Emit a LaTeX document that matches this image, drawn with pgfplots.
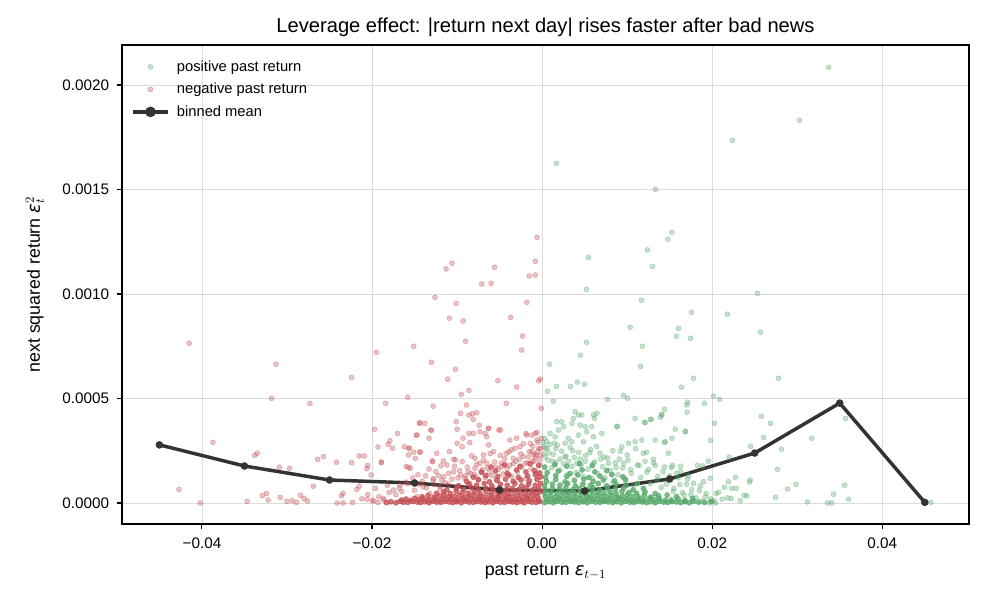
\documentclass[border=0pt]{standalone}
\usepackage{pgfplots}
\pgfplotsset{compat=1.18}
\usepackage{fontspec}
\setmainfont{Liberation Sans}
\newfontfamily\djv{DejaVu Sans}
\newcommand{\eps}{\hbox{\djv\itshape ε}}
\definecolor{pgreen}{RGB}{85,168,104}
\definecolor{nred}{RGB}{196,78,82}
\definecolor{dark}{RGB}{51,51,51}
\pgfplotsset{
  scatleg/.style={legend image code/.code={\path[draw=none,fill=none] (0pt,0pt) -- (29.5pt,0pt); \draw[mark repeat=2,mark phase=2,##1] plot coordinates {(0pt,0pt) (12.5pt,0pt) (25pt,0pt)};}},
  lineleg/.style={legend image code/.code={\path[draw=none,fill=none] (0pt,0pt) -- (29.5pt,0pt); \draw[##1] (0pt,0pt) -- (25pt,0pt); \fill[dark] (12.5pt,0pt) circle (2.5pt);}},
}
\begin{document}
\begin{tikzpicture}
\useasboundingbox (-87.84pt,-53.28pt) rectangle (623.52pt,377.28pt);
\begin{axis}[
  at={(0pt,0pt)}, anchor=south west,
  scale only axis, width=609.84pt, height=344.88pt,
  xmin=-0.0494, xmax=0.0502, ymin=-0.0001005, ymax=0.0021914,
  xtick={-0.04,-0.02,0,0.02,0.04},
  xticklabels={−0.04,−0.02,0.00,0.02,0.04},
  ytick={0,0.0005,0.001,0.0015,0.002},
  yticklabels={0.0000,0.0005,0.0010,0.0015,0.0020},
  scaled x ticks=false, scaled y ticks=false,
  tick align=outside, xtick pos=bottom, ytick pos=left,
  major tick length=3.8pt,
  tick style={black, line width=0.8pt},
  axis line style={line width=0.8pt},
  grid=major, major grid style={line width=0.6pt, color=black!14},
  ticklabel style={font=\fontsize{11}{13}\selectfont},
  xticklabel style={yshift=-2.6pt},
  yticklabel style={xshift=-2pt},
  xlabel={past return $\eps_{t-1}$},
  ylabel={next squared return $\eps_t^2$},
  label style={font=\fontsize{12.8}{15}\selectfont},
  xlabel style={at={(axis description cs:0.5,-0.1002)}, anchor=center},
  ylabel style={at={(axis description cs:-0.1027,0.5)}, anchor=center},
  every axis title shift=0pt,
  title={Leverage effect: |return next day| rises faster after bad news},
  title style={font=\fontsize{14.5}{17}\selectfont, at={(axis description cs:0.5,1.0376)}, anchor=center},
  legend style={draw=none, fill=none, at={(axis description cs:0,1)}, anchor=north west,
    xshift=3.6pt, yshift=-7pt,
    font=\fontsize{10.6}{12.5}\selectfont, legend cell align=left, row sep=3pt},
]
% ---------- positive past return (green) ----------
\addplot[only marks, mark=*, mark size=1.8pt, mark options={fill=pgreen, draw=pgreen, opacity=0.34, line width=0.5pt}, scatleg]
coordinates {
(0.00169,0.001625) (0.02239,0.001735) (0.03027,0.001831) (0.03369,0.002085) (0.01333,0.001501) (0.01478,0.001262) (0.01526,0.001295) (0.01239,0.001211) (0.01298,0.001132) (0.00545,0.001175) (0.00522,0.001022) (0.01169,0.00097) (0.02533,0.001003) (0.0218,0.000903) (0.01757,0.000912) (0.02569,0.000817) (0.01035,0.000841) (0.01604,0.000836) (0.0158,0.000798) (0.01745,0.000788) (0.00522,0.000769) (0.0118,0.00075) (0.0045,0.000707) (0.01157,0.000654) (0.00086,0.000664) (0.0278,0.000597) (0.0178,0.000597) (0.0164,0.000554) (0.00169,0.000558) (0.00333,0.000558) (0.00415,0.000578) (0.00498,0.000568) (0.00063,0.000534) (0.00133,0.000487) (0.00957,0.000515) (0.01004,0.000501) (0.00769,0.000496) (0.02016,0.000511) (0.02086,0.000496) (0.0171,0.000482) (0.01706,0.000434) (0.01909,0.000477) (0.01439,0.000448) (0.01404,0.000424) (0.01392,0.00041) (0.0258,0.000415) (0.03569,0.000405) (0.02686,0.000381) (0.02027,0.000381) (0.01094,0.000405) (0.01204,0.000386) (0.01275,0.0004) (0.01686,0.000343) (0.00886,0.000367) (0.03169,0.00031) (0.02604,0.000314) (0.0198,0.0003) (0.01439,0.00029) (0.02451,0.000271) (0.02815,0.000257) (0.01486,0.000238) (0.01227,0.000243) (0.01309,0.000209) (0.01956,0.0002) (0.01886,0.000177) (0.01827,0.00018) (0.022,0.000219) (0.01533,0.00018) (0.01627,0.000176) (0.02274,0.000123) (0.02447,0.00011) (0.02439,0.0001) (0.02768,0.000161) (0.02985,0.000089) (0.02886,0.000067) (0.02745,0.000027) (0.03557,0.000085) (0.03427,0.000042) (0.03604,0.000018) (0.03121,0.000005) (0.03357,0.0) (0.03404,0.0) (0.04573,0.000003) (0.0233,0.000011) (0.02408,0.000034) (0.02376,0.000037) (0.02224,0.000022) (0.0218,0.000024) (0.02145,0.000075) (0.02074,0.000051) (0.02047,0.000046) (0.02231,0.00007) (0.02282,0.00007) (0.02192,0.000102) (0.02118,0.000018) (0.0204,0.0) (0.01969,0.0) (0.0178,0.000094) (0.01898,0.000102) (0.01976,0.000118)
(0.00388,0.000437) (0.00427,0.000421) (0.00467,0.000421) (0.00368,0.000405) (0.00604,0.000421) (0.00643,0.000429) (0.00616,0.000405) (0.00231,0.000389) (0.00173,0.000389) (0.00251,0.000365) (0.00192,0.000349) (0.00094,0.000333) (0.00349,0.000381) (0.00447,0.000373) (0.00506,0.000365) (0.00584,0.000365) (0.00525,0.000341) (0.00427,0.000325) (0.00309,0.00031) (0.00153,0.000317) (0.00055,0.000293) (0.00145,0.000286) (0.00271,0.000286) (0.00349,0.000293) (0.00486,0.000293) (0.00604,0.000317) (0.00702,0.000333) (0.00878,0.000365) (0.01212,0.000384) (0.01282,0.0004) (0.01408,0.000421) (0.01526,0.00031) (0.01565,0.000353) (0.01702,0.000469) (0.01682,0.000341) (0.01094,0.000293) (0.00937,0.000269) (0.01016,0.000286) (0.01173,0.000301) (0.01329,0.000301) (0.01447,0.000293)
(0.0008,0.00024) (0.0016,0.00026) (0.0027,0.00022) (0.0036,0.00025) (0.0045,0.00021) (0.0056,0.00024) (0.0064,0.00027) (0.0073,0.00022) (0.0083,0.00025) (0.0091,0.00021) (0.0100,0.00023) (0.0110,0.00026) (0.0121,0.00020) (0.0133,0.00018) (0.0142,0.00015) (0.0150,0.00013) (0.0160,0.00012) (0.0170,0.00009) (0.0125,0.00016) (0.0114,0.00018) (0.0104,0.00016) (0.0096,0.00019) (0.0087,0.00017) (0.0078,0.00019) (0.0069,0.00021) (0.0060,0.00019) (0.0051,0.00020) (0.0041,0.00019) (0.0031,0.00020) (0.0021,0.00021) (0.0012,0.00020) (0.0004,0.00022) (0.0135,0.00011) (0.0146,0.00009) (0.0155,0.00007) (0.0165,0.00005) (0.0175,0.00004) (0.0185,0.00006) (0.0192,0.00003) (0.0188,0.00001) (0.0198,0.00002) (0.0172,0.00013) (0.0163,0.00015) (0.0152,0.00017) (0.0002,0.00027) (0.0003,0.00031) (0.0001,0.00029) (0.0006,0.00026)
(0.0002,0.000235) (0.0004,0.000262) (0.0007,0.000205) (0.0009,0.000281) (0.0011,0.000168) (0.0013,0.000232) (0.0016,0.000195) (0.0018,0.000276) (0.0021,0.000158) (0.0023,0.000248) (0.0025,0.000188) (0.0028,0.000224) (0.0030,0.000137) (0.0033,0.000265) (0.0035,0.000175) (0.0038,0.000218) (0.0040,0.000146) (0.0043,0.000242) (0.0046,0.000181) (0.0048,0.000128) (0.0051,0.000227) (0.0054,0.000162) (0.0057,0.000255) (0.0059,0.000118) (0.0062,0.000196) (0.0065,0.000142) (0.0068,0.000238) (0.0071,0.000174) (0.0074,0.000121) (0.0077,0.000215) (0.0080,0.000156) (0.0083,0.000097) (0.0086,0.000192) (0.0089,0.000135) (0.0092,0.000248) (0.0095,0.000168) (0.0098,0.000104) (0.0101,0.000205) (0.0105,0.000142) (0.0108,0.000086) (0.0112,0.000182) (0.0116,0.000122) (0.0119,0.000238) (0.0123,0.000148) (0.0127,0.000092) (0.0131,0.000192) (0.0136,0.000128) (0.0140,0.000075) (0.0144,0.000172) (0.0149,0.000108) (0.0154,0.000056) (0.0158,0.000142) (0.0162,0.000088) (0.0167,0.000038) (0.0171,0.000115) (0.0176,0.000064) (0.0181,0.000025) (0.0186,0.000082) (0.0193,0.000045) (0.0202,0.000012)
};
\addlegendentry{positive past return}
% green dense core
\addplot[only marks, mark=*, mark size=1.8pt, mark options={fill=pgreen, draw=pgreen, opacity=0.78, line width=0.5pt}, forget plot]
coordinates {
(0.0003,0.000002) (0.0008,0.000006) (0.0013,0.000001) (0.0018,0.000008) (0.0023,0.000004) (0.0028,0.000003) (0.0033,0.000007) (0.0038,0.000005) (0.0043,0.000002) (0.0048,0.000006) (0.0053,0.000001) (0.0058,0.000008) (0.0063,0.000004) (0.0068,0.000003) (0.0073,0.000007) (0.0078,0.000005) (0.0083,0.000002) (0.0088,0.000006) (0.0093,0.000001) (0.0098,0.000008) (0.0103,0.000004) (0.0108,0.000003) (0.0113,0.000007) (0.0118,0.000005) (0.0123,0.000002) (0.0128,0.000006) (0.0133,0.000001) (0.0138,0.000008) (0.0143,0.000004) (0.0148,0.000003) (0.0153,0.000007) (0.0158,0.000005) (0.0163,0.000002) (0.0168,0.000006) (0.0173,0.000001) (0.0178,0.000008) (0.0184,0.000004) (0.0191,0.000003) (0.0199,0.000007)
(0.0005,0.000014) (0.0010,0.000019) (0.0015,0.000012) (0.0020,0.000022) (0.0025,0.000016) (0.0030,0.000020) (0.0035,0.000013) (0.0040,0.000014) (0.0045,0.000019) (0.0050,0.000012) (0.0055,0.000022) (0.0060,0.000016) (0.0065,0.000020) (0.0070,0.000013) (0.0075,0.000014) (0.0080,0.000019) (0.0085,0.000012) (0.0090,0.000022) (0.0095,0.000016) (0.0100,0.000020) (0.0105,0.000013) (0.0110,0.000014) (0.0115,0.000019) (0.0120,0.000012) (0.0126,0.000022) (0.0132,0.000016) (0.0138,0.000020) (0.0145,0.000013) (0.0152,0.000014) (0.0160,0.000019) (0.0168,0.000012) (0.0177,0.000022)
(0.0004,0.000030) (0.0010,0.000036) (0.0016,0.000028) (0.0022,0.000034) (0.0028,0.000038) (0.0034,0.000031) (0.0040,0.000030) (0.0046,0.000036) (0.0052,0.000028) (0.0058,0.000034) (0.0064,0.000038) (0.0070,0.000031) (0.0076,0.000030) (0.0082,0.000036) (0.0088,0.000028) (0.0094,0.000034) (0.0100,0.000038) (0.0106,0.000031) (0.0113,0.000030) (0.0120,0.000036) (0.0128,0.000028) (0.0137,0.000034) (0.0147,0.000038) (0.0158,0.000031)
(0.0003,0.000047) (0.0010,0.000053) (0.0017,0.000045) (0.0024,0.000056) (0.0031,0.000050) (0.0038,0.000047) (0.0045,0.000053) (0.0052,0.000045) (0.0059,0.000056) (0.0066,0.000050) (0.0073,0.000047) (0.0080,0.000053) (0.0087,0.000045) (0.0094,0.000056) (0.0102,0.000050) (0.0111,0.000047) (0.0121,0.000053) (0.0133,0.000045)
(0.0004,0.000063) (0.0012,0.000070) (0.0020,0.000066) (0.0028,0.000073) (0.0036,0.000063) (0.0044,0.000070) (0.0052,0.000066) (0.0060,0.000073) (0.0068,0.000063) (0.0077,0.000070) (0.0086,0.000066) (0.0096,0.000073) (0.0107,0.000063) (0.0119,0.000070)
(0.0003,0.000082) (0.0012,0.000090) (0.0021,0.000085) (0.0030,0.000093) (0.0039,0.000082) (0.0048,0.000090) (0.0057,0.000085) (0.0066,0.000093) (0.0076,0.000082) (0.0087,0.000090) (0.0099,0.000085) (0.0112,0.000093)
(0.0005,0.000104) (0.0016,0.000112) (0.0027,0.000101) (0.0038,0.000108) (0.0049,0.000114) (0.0060,0.000103) (0.0072,0.000110) (0.0085,0.000106) (0.0098,0.000113)
(0.0004,0.000124) (0.0016,0.000131) (0.0029,0.000127) (0.0042,0.000134) (0.0055,0.000122) (0.0068,0.000129) (0.0082,0.000136) (0.0095,0.000125)
(0.0006,0.000146) (0.0019,0.000153) (0.0033,0.000141) (0.0047,0.000158) (0.0062,0.000149) (0.0076,0.000155)
(0.0003,0.000172) (0.0015,0.000183) (0.0029,0.000176) (0.0044,0.000188) (0.0059,0.000179)
};
% ---------- negative past return (red) ----------
\addplot[only marks, mark=*, mark size=1.8pt, mark options={fill=nred, draw=nred, opacity=0.34, line width=0.5pt}, scatleg]
coordinates {
(-0.0427,0.000065) (-0.0415,0.000764) (-0.0402,0.0) (-0.0387,0.00029) (-0.0347,0.000008) (-0.0338,0.000228) (-0.0335,0.000238) (-0.0329,0.000035) (-0.0324,0.000046) (-0.0322,0.000014) (-0.0318,0.000501) (-0.0313,0.000664) (-0.0309,0.000171) (-0.0308,0.000027) (-0.0300,0.000008) (-0.0297,0.000166) (-0.0294,0.000011) (-0.0289,0.000003) (-0.0284,0.000037) (-0.0280,0.000021) (-0.0276,0.00001) (-0.0273,0.000477) (-0.0269,0.00008) (-0.0264,0.000209) (-0.0257,0.000222) (-0.0242,0.000195) (-0.0241,0.0) (-0.0236,0.000035) (-0.0234,0.000046) (-0.0234,0.0) (-0.0224,0.000601) (-0.0224,0.000193) (-0.0223,0.000003) (-0.0218,0.000065) (-0.0215,0.000225) (-0.0215,0.00008) (-0.0209,0.000225) (-0.0206,0.000164) (-0.0206,0.000018) (-0.0205,0.000179) (-0.0201,0.000134) (-0.0200,0.000011) (-0.0197,0.000353) (-0.0196,0.00007) (-0.0195,0.000721) (-0.0193,0.000268) (-0.0193,0.000002) (-0.0189,0.000196) (-0.0184,0.000477) (-0.0182,0.000085) (-0.0179,0.000298) (-0.0176,0.000262) (-0.0170,0.000333) (-0.0162,0.000269) (-0.0160,0.000174) (-0.0158,0.000506) (-0.0157,0.000171) (-0.0156,0.000262) (-0.0151,0.00075) (-0.0149,0.000214) (-0.0148,0.000324) (-0.0144,0.000381) (-0.0143,0.000244) (-0.0138,0.000381) (-0.0133,0.00031) (-0.0130,0.000348) (-0.0130,0.000673) (-0.0129,0.000201) (-0.0128,0.000463) (-0.0128,0.000116) (-0.0126,0.000984) (-0.0124,0.000238) (-0.0116,0.000201) (-0.0113,0.00112) (-0.0111,0.000592) (-0.0109,0.000884) (-0.0109,0.000246) (-0.0106,0.001147) (-0.0104,0.000209) (-0.0102,0.00064) (-0.0101,0.000955) (-0.0101,0.000389) (-0.0100,0.000353) (-0.0096,0.000429) (-0.0095,0.00052) (-0.0093,0.000871) (-0.0090,0.000774) (-0.0089,0.000469) (-0.0086,0.000539) (-0.0086,0.00042) (-0.0086,0.000333) (-0.0082,0.000427) (-0.0081,0.0004) (-0.0077,0.000432) (-0.0074,0.000372) (-0.0071,0.001048) (-0.0067,0.000333) (-0.0063,0.000357) (-0.0060,0.001051) (-0.0056,0.001128) (-0.0052,0.000585) (-0.0051,0.000349) (-0.0049,0.000349) (-0.0042,0.000477) (-0.0037,0.000888) (-0.0030,0.000555) (-0.0024,0.000732) (-0.0023,0.000799) (-0.0019,0.000333) (-0.0018,0.00096) (-0.0015,0.001086) (-0.0012,0.000325) (-0.0008,0.001091) (-0.0008,0.001156) (-0.0006,0.001271) (-0.0006,0.000338) (-0.0004,0.000585) (-0.0002,0.000593) (-0.0001,0.000453)
(-0.0144,0.000384) (-0.0147,0.000325) (-0.0131,0.000349) (-0.0181,0.000281) (-0.0157,0.000262) (-0.0151,0.000243) (-0.0157,0.00023) (-0.0144,0.000243) (-0.0155,0.000166) (-0.0189,0.000193) (-0.0167,0.000086) (-0.0175,0.000062) (-0.0187,0.000022) (-0.0186,0.000014) (-0.0129,0.000198) (-0.0112,0.000182) (-0.0102,0.000206) (-0.0100,0.000286) (-0.0094,0.000269) (-0.0093,0.000310) (-0.0085,0.000289) (-0.0079,0.000214) (-0.0073,0.00019) (-0.0079,0.000166) (-0.0069,0.00023) (-0.0063,0.000278) (-0.0065,0.000317) (-0.0073,0.000341) (-0.0081,0.000333) (-0.0063,0.000357) (-0.0057,0.000246) (-0.0038,0.000301) (-0.0030,0.00031) (-0.0018,0.000325) (-0.0008,0.000333) (-0.0006,0.000301) (-0.0014,0.000285) (-0.0026,0.000269) (-0.0036,0.000254) (-0.0042,0.000238) (-0.0012,0.000246) (-0.0004,0.000262) (-0.0022,0.000222) (-0.0008,0.000222) (-0.0034,0.000214) (-0.0128,0.00011) (-0.0116,0.000126) (-0.0104,0.00015) (-0.0096,0.000134) (-0.0087,0.00015) (-0.0120,0.00007) (-0.0140,0.000078) (-0.0132,0.000046) (-0.0147,0.00003) (-0.0168,0.00007) (-0.0172,0.00004) (-0.0180,0.00005) (-0.0192,0.00003) (-0.0198,0.00001) (-0.0205,0.00004) (-0.0212,0.00002) (-0.0160,0.00010) (-0.0152,0.00012) (-0.0145,0.00009) (-0.0137,0.00013) (-0.0125,0.00015) (-0.0118,0.00011)
(-0.0003,0.00021) (-0.0007,0.00023) (-0.0011,0.00020) (-0.0002,0.00026) (-0.0005,0.00029) (-0.0001,0.00031) (-0.0016,0.00022) (-0.0020,0.00019) (-0.0031,0.00020) (-0.0048,0.00019) (-0.0038,0.00018) (-0.0054,0.00017) (-0.0065,0.00019) (-0.0070,0.00016) (-0.0084,0.00014) (-0.0090,0.00013) (-0.0099,0.00012) (-0.0110,0.00009) (-0.0120,0.00008)
(-0.0165,0.000055) (-0.0158,0.000092) (-0.0150,0.000061) (-0.0146,0.000135) (-0.0141,0.000104) (-0.0136,0.000072) (-0.0133,0.000162) (-0.0127,0.000088) (-0.0122,0.000131) (-0.0119,0.000178) (-0.0114,0.000097) (-0.0110,0.000142) (-0.0106,0.000115) (-0.0103,0.000176) (-0.0099,0.000082) (-0.0097,0.000155) (-0.0094,0.000198) (-0.0091,0.000118) (-0.0088,0.000172) (-0.0085,0.000094) (-0.0083,0.000226) (-0.0080,0.000138) (-0.0077,0.000185) (-0.0075,0.000109) (-0.0072,0.000152) (-0.0069,0.000205) (-0.0067,0.000121) (-0.0064,0.000168) (-0.0061,0.000236) (-0.0059,0.000131) (-0.0056,0.000196) (-0.0054,0.000112) (-0.0051,0.000162) (-0.0049,0.000228) (-0.0046,0.000139) (-0.0044,0.000212) (-0.0041,0.000166) (-0.0039,0.000245) (-0.0036,0.000127) (-0.0034,0.000188) (-0.0032,0.000262) (-0.0029,0.000148) (-0.0027,0.000209) (-0.0024,0.000171) (-0.0022,0.000284) (-0.0019,0.000118) (-0.0017,0.000192) (-0.0015,0.000246) (-0.0013,0.000164) (-0.0011,0.000272) (-0.0009,0.000201) (-0.0007,0.000142) (-0.0005,0.000247) (-0.0003,0.000186) (-0.0002,0.000229) (-0.0010,0.000232) (-0.0025,0.000235) (-0.0047,0.000175) (-0.0062,0.000148) (-0.0078,0.000125)
};
\addlegendentry{negative past return}
% red dense core
\addplot[only marks, mark=*, mark size=1.8pt, mark options={fill=nred, draw=nred, opacity=0.78, line width=0.5pt}, forget plot]
coordinates {
(-0.0183,0.000002) (-0.0178,0.000006) (-0.0172,0.000001) (-0.0167,0.000008) (-0.0163,0.000004) (-0.0158,0.000003) (-0.0152,0.000007) (-0.0147,0.000005) (-0.0143,0.000002) (-0.0138,0.000006) (-0.0133,0.000001) (-0.0128,0.000008) (-0.0124,0.000004) (-0.0119,0.000003) (-0.0114,0.000007) (-0.0109,0.000005) (-0.0105,0.000002) (-0.0100,0.000006) (-0.0095,0.000001) (-0.0091,0.000008) (-0.0086,0.000004) (-0.0081,0.000003) (-0.0077,0.000007) (-0.0072,0.000005) (-0.0067,0.000002) (-0.0063,0.000006) (-0.0058,0.000001) (-0.0053,0.000008) (-0.0049,0.000004) (-0.0044,0.000003) (-0.0039,0.000007) (-0.0035,0.000005) (-0.0030,0.000002) (-0.0026,0.000006) (-0.0021,0.000001) (-0.0016,0.000008) (-0.0012,0.000004) (-0.0007,0.000003) (-0.0003,0.000007)
(-0.0165,0.000014) (-0.0160,0.000019) (-0.0155,0.000012) (-0.0150,0.000022) (-0.0145,0.000016) (-0.0140,0.000020) (-0.0135,0.000013) (-0.0131,0.000014) (-0.0126,0.000019) (-0.0121,0.000012) (-0.0116,0.000022) (-0.0112,0.000016) (-0.0107,0.000020) (-0.0102,0.000013) (-0.0098,0.000014) (-0.0093,0.000019) (-0.0088,0.000012) (-0.0084,0.000022) (-0.0079,0.000016) (-0.0074,0.000020) (-0.0070,0.000013) (-0.0065,0.000014) (-0.0060,0.000019) (-0.0056,0.000012) (-0.0051,0.000022) (-0.0046,0.000016) (-0.0042,0.000020) (-0.0037,0.000013) (-0.0032,0.000014) (-0.0028,0.000019) (-0.0023,0.000012) (-0.0018,0.000022) (-0.0014,0.000016) (-0.0009,0.000020) (-0.0004,0.000013)
(-0.0141,0.000030) (-0.0134,0.000036) (-0.0127,0.000028) (-0.0121,0.000034) (-0.0115,0.000038) (-0.0109,0.000031) (-0.0103,0.000030) (-0.0097,0.000036) (-0.0091,0.000028) (-0.0085,0.000034) (-0.0080,0.000038) (-0.0074,0.000031) (-0.0068,0.000030) (-0.0062,0.000036) (-0.0057,0.000028) (-0.0051,0.000034) (-0.0045,0.000038) (-0.0040,0.000031) (-0.0034,0.000030) (-0.0029,0.000036) (-0.0023,0.000028) (-0.0017,0.000034) (-0.0011,0.000038) (-0.0005,0.000031)
(-0.0124,0.000047) (-0.0116,0.000053) (-0.0108,0.000045) (-0.0101,0.000056) (-0.0094,0.000050) (-0.0087,0.000047) (-0.0080,0.000053) (-0.0073,0.000045) (-0.0066,0.000056) (-0.0059,0.000050) (-0.0052,0.000047) (-0.0046,0.000053) (-0.0039,0.000045) (-0.0033,0.000056) (-0.0026,0.000050) (-0.0020,0.000047) (-0.0013,0.000053) (-0.0007,0.000045) (-0.0002,0.000056)
(-0.0112,0.000063) (-0.0101,0.000070) (-0.0092,0.000066) (-0.0083,0.000073) (-0.0075,0.000063) (-0.0066,0.000070) (-0.0058,0.000066) (-0.0050,0.000073) (-0.0042,0.000063) (-0.0035,0.000070) (-0.0027,0.000066) (-0.0019,0.000073) (-0.0011,0.000063) (-0.0004,0.000070)
(-0.0098,0.000082) (-0.0086,0.000090) (-0.0077,0.000085) (-0.0068,0.000093) (-0.0059,0.000082) (-0.0049,0.000090) (-0.0041,0.000085) (-0.0032,0.000093) (-0.0024,0.000082) (-0.0016,0.000090) (-0.0008,0.000085) (-0.0002,0.000093)
(-0.0089,0.000104) (-0.0075,0.000112) (-0.0062,0.000101) (-0.0053,0.000108) (-0.0043,0.000114) (-0.0034,0.000103) (-0.0025,0.000110) (-0.0015,0.000106) (-0.0006,0.000113)
(-0.0081,0.000124) (-0.0066,0.000131) (-0.0052,0.000127) (-0.0039,0.000134) (-0.0028,0.000122) (-0.0017,0.000129) (-0.0008,0.000136) (-0.0002,0.000125)
(-0.0071,0.000146) (-0.0055,0.000153) (-0.0041,0.000141) (-0.0030,0.000158) (-0.0019,0.000149) (-0.0009,0.000155) (-0.0003,0.000144)
(-0.0060,0.000172) (-0.0044,0.000183) (-0.0026,0.000176) (-0.0014,0.000188) (-0.0004,0.000179)
};
% ---------- binned mean ----------
\addplot[color=dark, line width=2.5pt, mark=*, mark size=2.5pt, mark options={solid, fill=dark, draw=dark, line width=0.4pt}, lineleg]
coordinates {
(-0.045,0.000278) (-0.035,0.000177) (-0.025,0.000110) (-0.015,0.0000957) (-0.005,0.0000622)
(0.005,0.0000574) (0.015,0.000115) (0.025,0.000239) (0.035,0.000478) (0.045,0.000003)
};
\addlegendentry{binned mean}
\end{axis}
\end{tikzpicture}
\end{document}
